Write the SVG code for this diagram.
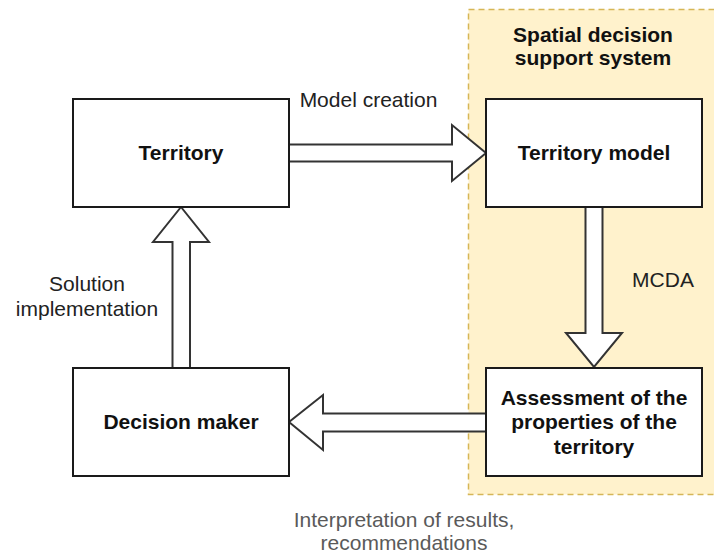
<svg xmlns="http://www.w3.org/2000/svg" width="714" height="553" viewBox="0 0 714 553">
  <style>
    .box { fill: #ffffff; stroke: #1a1a1a; stroke-width: 2; }
    .arrow { fill: #ffffff; stroke: #333333; stroke-width: 2; stroke-linejoin: miter; }
    .title { font-family: "Liberation Sans", Arial, sans-serif; font-size: 21px; font-weight: bold; fill: #111111; text-anchor: middle; }
    .label { font-family: "Liberation Sans", Arial, sans-serif; font-size: 21px; fill: #222222; text-anchor: middle; }
    .note { font-family: "Liberation Sans", Arial, sans-serif; font-size: 21px; fill: #5a5a5a; text-anchor: middle; }
  </style>

  <!-- Spatial decision support system container -->
  <g id="sdss">
    <rect x="468.5" y="9.5" width="260" height="485" fill="#fff2cc" stroke="#d6b656" stroke-width="1.5" stroke-dasharray="6 4"/>
    <text class="title" x="593" y="42">Spatial decision</text>
    <text class="title" x="593" y="65">support system</text>
  </g>

  <!-- Connectors (block arrows) -->
  <g id="connectors">
    <!-- Territory -> Territory model -->
    <polygon class="arrow" points="289,144.5 452,144.5 452,125 486,153 452,181 452,161.5 289,161.5"/>
    <!-- Territory model -> Assessment -->
    <polygon class="arrow" points="585.5,207 602.5,207 602.5,333 622,333 594,367 566,333 585.5,333"/>
    <!-- Assessment -> Decision maker -->
    <polygon class="arrow" points="486,413.5 323,413.5 323,395 289,422 323,450 323,431.5 486,431.5"/>
    <!-- Decision maker -> Territory -->
    <polygon class="arrow" points="172.5,368 172.5,242 153,242 181,207 209,242 190,242 190,368"/>
  </g>

  <g id="label-model-creation">
    <text class="label" x="368.5" y="107">Model creation</text>
  </g>
  <g id="label-mcda">
    <text class="label" x="663" y="287">MCDA</text>
  </g>
  <g id="label-solution">
    <text class="label" x="87" y="291">Solution</text>
    <text class="label" x="87" y="316">implementation</text>
  </g>
  <g id="label-interpretation">
    <text class="note" x="404" y="527">Interpretation of results,</text>
    <text class="note" x="404" y="550">recommendations</text>
  </g>

  <!-- Nodes -->
  <g id="territory">
    <rect class="box" x="73" y="99" width="216" height="108"/>
    <text class="title" x="181" y="160">Territory</text>
  </g>
  <g id="territory-model">
    <rect class="box" x="486" y="99" width="216" height="108"/>
    <text class="title" x="594" y="160">Territory model</text>
  </g>
  <g id="assessment">
    <rect class="box" x="486" y="368" width="216" height="108"/>
    <text class="title" x="594" y="405">Assessment of the</text>
    <text class="title" x="594" y="429">properties of the</text>
    <text class="title" x="594" y="454">territory</text>
  </g>
  <g id="decision-maker">
    <rect class="box" x="73" y="368" width="216" height="108"/>
    <text class="title" x="181" y="429">Decision maker</text>
  </g>
</svg>
